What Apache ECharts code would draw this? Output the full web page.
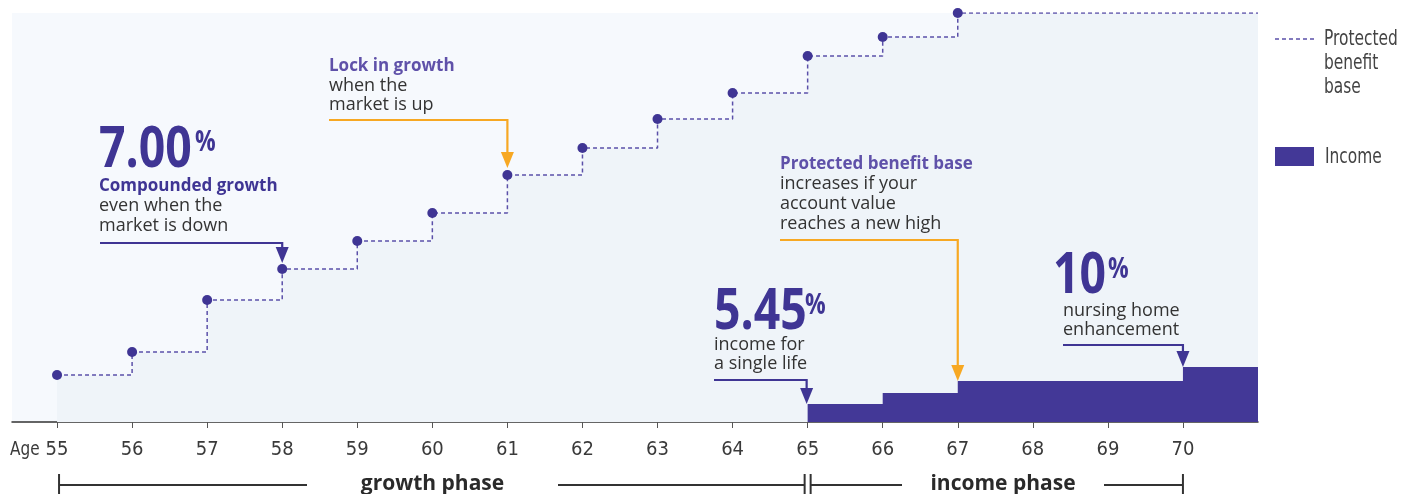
<!DOCTYPE html>
<html>
<head>
<meta charset="utf-8">
<title>Protected benefit base and income by age</title>
<script src="https://cdn.jsdelivr.net/npm/echarts@6/dist/echarts.min.js"></script>
<style>
  html, body { margin: 0; padding: 0; background: #ffffff; }
  #chart { width: 1409px; height: 494px; }
</style>
</head>
<body>
<div id="chart"></div>
<script>
// Protected benefit base at each birthday (relative units, axis baseline = 0)
const ages = [55, 56, 57, 58, 59, 60, 61, 62, 63, 64, 65, 66, 67];
const benefitBase = [47, 70, 122, 153, 181, 209, 247, 274, 303, 329, 366, 385, 409];

// Annual income, stepping up at each listed age (same units)
const incomeAges = [65, 66, 67, 70, 71];
const incomeLevels = [18, 29, 41, 55, 55];

// Age ticks shown on the axis
const tickAges = [55, 56, 57, 58, 59, 60, 61, 62, 63, 64, 65, 66, 67, 68, 69, 70];

const AGE_MIN = 54.4;
const AGE_MAX = 71;

const PURPLE = '#3f3594';
const PURPLE_LIGHT = '#5f51a9';
const ORANGE = '#f7a823';
const TEXT = '#333333';
const NARROW = '"Liberation Sans Narrow", "DejaVu Sans Condensed", sans-serif';
const SANS = '"Open Sans", "Noto Sans", sans-serif';

const chart = echarts.init(document.getElementById('chart'), null, { renderer: 'canvas' });

// benefit base runs flat to the right edge after its last step
const baseData = ages.map((a, i) => [a, benefitBase[i]]);
baseData.push({ value: [AGE_MAX, benefitBase[benefitBase.length - 1]], symbol: 'none' });

const incomeData = incomeAges.map((a, i) => [a, incomeLevels[i]]);

const option = {
  animation: false,
  grid: {
    left: 12, right: 151, top: 13, bottom: 72,
    show: true, backgroundColor: '#f6f9fd', borderWidth: 0
  },
  xAxis: {
    type: 'value',
    min: AGE_MIN,
    max: AGE_MAX,
    splitLine: { show: false },
    axisLine: { show: true, onZero: false, lineStyle: { color: '#333', width: 1.5 } },
    axisTick: { show: true, customValues: tickAges, length: 6, lineStyle: { color: '#555', width: 1 } },
    axisLabel: {
      customValues: tickAges,
      margin: 18,
      color: '#3a3a3a',
      fontFamily: NARROW,
      fontSize: 20
    }
  },
  yAxis: {
    type: 'value',
    min: 0,
    max: benefitBase[benefitBase.length - 1],
    show: false
  },
  series: [
    {
      name: 'Protected benefit base',
      type: 'line',
      step: 'end',
      data: baseData,
      symbol: 'circle',
      symbolSize: 10,
      itemStyle: { color: PURPLE },
      lineStyle: { color: '#5b50a9', width: 1.5, type: [4, 3] },
      areaStyle: { color: '#eff4f9', opacity: 1 },
      z: 3
    },
    {
      name: 'Income',
      type: 'line',
      step: 'end',
      data: incomeData,
      symbol: 'none',
      lineStyle: { width: 0 },
      areaStyle: { color: '#433897', opacity: 1 },
      z: 4
    }
  ]
};

chart.setOption(option);

function px(age, v) {
  return chart.convertToPixel({ gridIndex: 0 }, [age, v]);
}

// elbow arrow: horizontal run at yLine, then down to the tip
function arrow(x0, yLine, tip, color) {
  const [tx, ty] = tip;
  return [
    {
      type: 'polyline', z: 10,
      shape: { points: [[x0, yLine], [tx, yLine], [tx, ty - 10]] },
      style: { stroke: color, lineWidth: 2.2, fill: null }
    },
    {
      type: 'polygon', z: 10,
      shape: { points: [[tx - 6.5, ty - 16], [tx + 6.5, ty - 16], [tx, ty]] },
      style: { fill: color }
    }
  ];
}

function bigNumber(x, yMid, num, pctX, pctY) {
  return [
    {
      type: 'text', z: 10, x: x, y: yMid, scaleX: 0.8,
      style: {
        text: num, fill: PURPLE, font: '700 58px ' + SANS,
        verticalAlign: 'middle', align: 'left'
      }
    },
    {
      type: 'text', z: 10, x: pctX, y: pctY, scaleX: 0.82,
      style: {
        text: '%', fill: PURPLE, font: '700 28px ' + SANS,
        verticalAlign: 'middle', align: 'left'
      }
    }
  ];
}

function note(x, yTop, head, lines, headColor, lh) {
  const parts = [];
  if (head) parts.push('{h|' + head + '}');
  lines.forEach(l => parts.push('{r|' + l + '}'));
  return {
    type: 'text', z: 10, x: x, y: yTop,
    style: {
      text: parts.join('\n'),
      verticalAlign: 'top', align: 'left',
      rich: {
        h: { font: '700 17px ' + SANS, fill: headColor, lineHeight: lh },
        r: { font: '400 18px ' + SANS, fill: TEXT, lineHeight: lh }
      }
    }
  };
}

const p58 = px(58, benefitBase[3]);
const p61 = px(61, benefitBase[6]);
const p65 = px(65, incomeLevels[0]);
const p67 = px(67, incomeLevels[2]);
const p70 = px(70, incomeLevels[3]);

const x55 = px(55, 0)[0];
const x65 = px(65, 0)[0];
const x70 = px(70, 0)[0];
const axisY = px(55, 0)[1];

const graphics = [];

// annotations
graphics.push(...bigNumber(99, 150, '7.00', 195, 143));
graphics.push(note(99, 176, 'Compounded growth', ['even when the', 'market is down'], PURPLE, 20));
graphics.push(...arrow(100, 243, [p58[0], p58[1] - 6], PURPLE));

graphics.push(note(329, 57, 'Lock in growth', ['when the', 'market is up'], PURPLE_LIGHT, 19));
graphics.push(...arrow(329, 120, [p61[0], p61[1] - 7], ORANGE));

graphics.push(note(780, 154, 'Protected benefit base', ['increases if your', 'account value', 'reaches a new high'], PURPLE_LIGHT, 20));
graphics.push(...arrow(780, 240, [p67[0], p67[1]], ORANGE));

graphics.push(...bigNumber(714, 312, '5.45', 805, 306));
graphics.push(note(714, 335, '', ['income for', 'a single life'], PURPLE, 19));
graphics.push(...arrow(714, 380, [p65[0] - 1, p65[1]], PURPLE));

graphics.push(...bigNumber(1053, 276, '10', 1108, 270));
graphics.push(note(1063, 301, '', ['nursing home', 'enhancement'], PURPLE, 19));
graphics.push(...arrow(1063, 345, [p70[0], p70[1]], PURPLE));

// axis caption
graphics.push({
  type: 'text', x: 10, y: axisY + 28, scaleX: 0.85,
  style: { text: 'Age', fill: '#3a3a3a', font: '20px ' + NARROW, verticalAlign: 'middle' }
});

// legend
graphics.push({
  type: 'line', shape: { x1: 1275, y1: 39, x2: 1315, y2: 39 },
  style: { stroke: '#5b50a9', lineWidth: 1.5, lineDash: [4, 3] }
});
graphics.push({
  type: 'text', x: 1324, y: 27, scaleX: 0.78,
  style: { text: 'Protected\nbenefit\nbase', fill: '#444', font: '22px ' + NARROW, lineHeight: 24, verticalAlign: 'top' }
});
graphics.push({
  type: 'rect', shape: { x: 1275, y: 147, width: 39, height: 19 },
  style: { fill: '#433897' }
});
graphics.push({
  type: 'text', x: 1325, y: 157, scaleX: 0.78,
  style: { text: 'Income', fill: '#444', font: '22px ' + NARROW, verticalAlign: 'middle' }
});

// phase brackets below the axis
const by = 485;
const bs = { stroke: '#333', lineWidth: 2 };
function seg(x1, y1, x2, y2) {
  return { type: 'line', shape: { x1, y1, x2, y2 }, style: bs };
}
const gL = x55 + 2, gR = x65 - 3, iL = x65 + 3, iR = x70;
graphics.push(seg(gL, 474, gL, 500), seg(gL, by, 307, by), seg(558, by, gR, by), seg(gR, 474, gR, 500));
graphics.push(seg(iL, 474, iL, 500), seg(iL, by, 902, by), seg(1104, by, iR, by), seg(iR, 474, iR, 500));
graphics.push({
  type: 'text', x: (307 + 558) / 2, y: by - 1,
  style: { text: 'growth phase', fill: '#2a2a2a', font: '700 21px ' + SANS, align: 'center', verticalAlign: 'middle' }
});
graphics.push({
  type: 'text', x: (902 + 1104) / 2, y: by - 1,
  style: { text: 'income phase', fill: '#2a2a2a', font: '700 21px ' + SANS, align: 'center', verticalAlign: 'middle' }
});

chart.setOption({ graphic: { elements: graphics } });
</script>
</body>
</html>
